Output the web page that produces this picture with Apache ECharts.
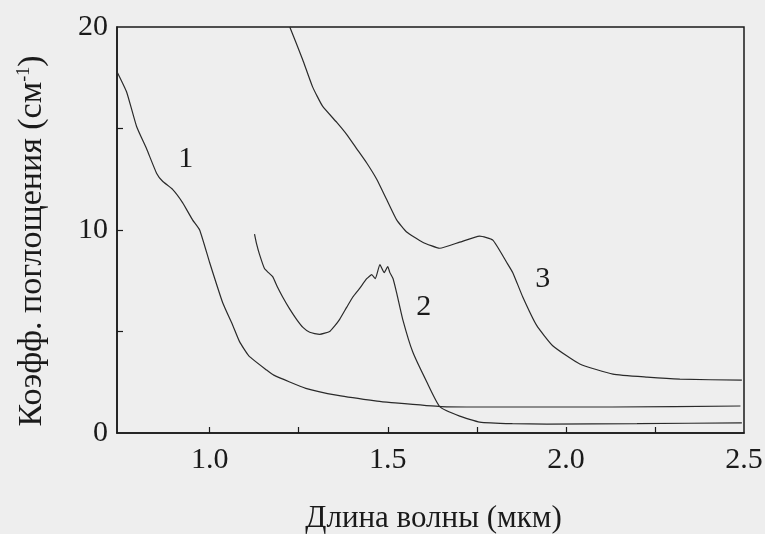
<!DOCTYPE html>
<html>
<head>
<meta charset="utf-8">
<script src="https://cdn.jsdelivr.net/npm/echarts@6/dist/echarts.min.js"></script>
<style>
  html, body { margin: 0; padding: 0; background: #eeeeee; }
  #main { width: 765px; height: 534px; }
</style>
</head>
<body>
<div id="main"></div>
<script>
// спектры поглощения, значения
var curve1 = [[0.74,17.8],[0.767,16.8],[0.795,15.1],[0.823,14.0],[0.851,12.8],[0.868,12.4],[0.896,12.0],
  [0.924,11.35],[0.952,10.5],[0.972,10.0],[1.0,8.4],[1.037,6.4],[1.065,5.3],[1.084,4.5],[1.11,3.8],
  [1.16,3.1],[1.18,2.85],[1.27,2.2],[1.36,1.85],[1.47,1.57],[1.51,1.5],[1.65,1.3],[1.76,1.28],
  [2.13,1.28],[2.49,1.33]];
var curve2 = [[1.126,9.8],[1.132,9.3],[1.14,8.8],[1.154,8.1],[1.165,7.9],[1.177,7.7],[1.19,7.2],
  [1.205,6.7],[1.225,6.1],[1.244,5.6],[1.262,5.2],[1.281,4.96],[1.309,4.86],[1.337,5.0],[1.35,5.25],
  [1.365,5.6],[1.385,6.2],[1.402,6.7],[1.42,7.1],[1.441,7.6],[1.455,7.8],[1.465,7.6],[1.478,8.3],
  [1.49,7.9],[1.5,8.2],[1.506,7.9],[1.515,7.6],[1.525,6.9],[1.542,5.6],[1.57,4.0],[1.61,2.5],
  [1.646,1.3],[1.702,0.83],[1.758,0.54],[1.85,0.46],[1.947,0.44],[2.2,0.46],[2.494,0.5]];
var curve3 = [[1.225,20],[1.261,18.4],[1.289,17.05],[1.317,16.1],[1.357,15.3],[1.385,14.7],[1.413,14.0],
  [1.441,13.3],[1.469,12.5],[1.497,11.5],[1.525,10.5],[1.553,9.9],[1.598,9.4],[1.646,9.1],[1.702,9.4],
  [1.758,9.7],[1.795,9.5],[1.834,8.4],[1.851,7.9],[1.879,6.7],[1.918,5.3],[1.963,4.3],[2.039,3.4],
  [2.132,2.9],[2.228,2.75],[2.32,2.65],[2.494,2.6]];
// номера кривых
var curveLabels = [[0.933,13.5,'1'],[1.601,6.2,'2'],[1.935,7.57,'3']];
// деления осей
var xTicks = [1.0,1.25,1.5,1.75,2.0,2.25];
var xLabels = [1.0,1.5,2.0,2.5];
var yTicks = [5,10,15];
var yLabels = [0,10,20];

var font = 'Liberation Serif';
var ink = '#1a1a1a';

var chart = echarts.init(document.getElementById('main'));

function curve(data){
  return {
    type: 'line'
    ,data: data
    ,showSymbol: false
    ,smooth: 0.15
    ,lineStyle: { color: '#2a2a2a', width: 1.2 }
  };
}

chart.setOption({
  backgroundColor: '#eeeeee'
  ,animation: false
  ,grid: {
    left: 117, right: 21, top: 27, bottom: 101
    ,outerBoundsMode: 'none'
    ,show: true, borderColor: ink, borderWidth: 1.5
  }
  ,xAxis: {
    type: 'value'
    ,min: 0.74
    ,max: 2.5
    ,splitLine: { show: false }
    ,axisLine: { lineStyle: { color: ink, width: 1.5 } }
    ,axisTick: { inside: true, length: 6, customValues: xTicks, lineStyle: { color: ink, width: 1.2 } }
    ,axisLabel: {
      customValues: xLabels
      ,margin: 12
      ,color: ink
      ,fontFamily: font
      ,fontSize: 30
      ,formatter: function(v){ return v.toFixed(1); }
    }
    ,name: 'Длина волны (мкм)'
    ,nameLocation: 'middle'
    ,nameGap: 70
    ,nameTextStyle: { color: ink, fontFamily: font, fontSize: 31, padding: [0, 0, 0, 6] }
  }
  ,yAxis: {
    type: 'value'
    ,min: 0
    ,max: 20
    ,splitLine: { show: false }
    ,axisLine: { lineStyle: { color: ink, width: 1.5 } }
    ,axisTick: { inside: true, length: 6, customValues: yTicks, lineStyle: { color: ink, width: 1.2 } }
    ,axisLabel: {
      customValues: yLabels
      ,margin: 9
      ,color: ink
      ,fontFamily: font
      ,fontSize: 30
    }
    ,name: '{a|Коэфф. поглощения (см}{s|-1}{a|)}'
    ,nameLocation: 'middle'
    ,nameRotate: 90
    ,nameGap: 68
    ,nameTextStyle: {
      padding: [0, 22, 0, 0]
      ,rich: {
        a: { color: ink, fontFamily: font, fontSize: 34 }
        ,s: { color: ink, fontFamily: font, fontSize: 18, verticalAlign: 'top', padding: [0, 0, 14, 0] }
      }
    }
  }
  ,series: [
    curve(curve1)
    ,curve(curve2)
    ,curve(curve3)
    ,{
      type: 'scatter'
      ,data: curveLabels
      ,symbolSize: 0
      ,itemStyle: { opacity: 1 }
      ,label: {
        show: true
        ,position: 'inside'
        ,color: ink
        ,textBorderWidth: 0
        ,fontFamily: font
        ,fontSize: 30
        ,formatter: function(p){ return p.value[2]; }
      }
    }
  ]
});
</script>
</body>
</html>
